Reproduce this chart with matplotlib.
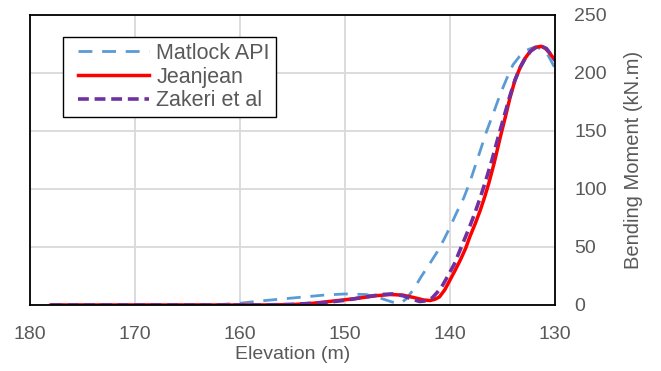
import matplotlib.pyplot as plt
from matplotlib.legend_handler import HandlerLine2D

plt.rcParams['font.family'] = ['Liberation Sans', 'DejaVu Sans']

# Elevation (m) / Bending moment (kN.m)
matlock_x = [178, 170, 165, 162, 160, 158, 155, 152, 150, 148, 146.5, 145.5, 144.7,
             144.2, 143.5, 142.7, 141.9, 141.2, 140.6, 140, 139.4, 138.7, 138.1,
             137.3, 136.5, 135.8, 135.2, 134.6, 134, 133.4, 132.7, 132.2, 131.7,
             131.2, 130.8, 130.4, 130]
matlock_y = [0, 0, 0, 0.3, 1.5, 3.5, 6, 8.5, 9.5, 9, 5.5, 2.5, 1.5,
             5, 13, 25, 36, 46, 56, 67, 79, 92, 106,
             128, 150, 167, 182, 195, 207, 214, 219.5, 221.5, 222,
             220.5, 217.5, 211, 204]

jeanjean_x = [178, 165, 158, 155, 153, 151, 149, 147, 145.7, 144.5, 143.5, 142.5,
              141.9, 141.4, 141, 140.5, 140, 139.5, 139, 138.5, 138.1, 137.6,
              137.1, 136.7, 136.3, 135.8, 135.2, 134.7, 134.3, 133.8, 133.3, 132.9,
              132.4, 131.9, 131.3, 130.9, 130.5, 130]
jeanjean_y = [0, 0, 0, 0.3, 1.5, 3.5, 5.5, 8, 9, 8.5, 6.5, 4.3,
              3.8, 5, 7, 13, 21.5, 30, 39, 49, 59, 70,
              82, 93, 105, 122, 145, 163, 178, 194, 205, 212,
              218, 222, 223, 221, 217, 211]

zakeri_x = [178, 158, 155, 152, 150, 148, 146.5, 145.5, 144.5, 143.6, 142.9, 142.3,
            141.7, 141.2, 140.7, 140.2, 139.6, 139.1, 138.6, 138.1, 137.6, 137.1,
            136.6, 136, 135.4, 134.8, 134.3, 133.8, 133.3, 132.8, 132.3, 131.8,
            131.3, 130.8, 130.4, 130]
zakeri_y = [0, 0, 0.5, 2, 4, 7, 9, 9.5, 8, 5, 3, 3.5,
            6, 11, 17, 25, 35, 46, 57, 68, 80, 93,
            107, 125, 145, 164, 180, 194, 205, 213, 219, 222,
            223, 221, 216, 211]

x_ticks = [180, 170, 160, 150, 140, 130]
y_ticks = [0, 50, 100, 150, 200, 250]

grey = '#595959'

fig = plt.figure(figsize=(6.61, 3.71), dpi=100)
ax = fig.add_axes([0.0454, 0.178, 0.7942, 0.7818])

ax.plot(matlock_x, matlock_y, color='#5b9bd5', lw=2.0, dashes=(5, 3.5), label='Matlock API')
ax.plot(jeanjean_x, jeanjean_y, color='#ff0000', lw=2.5, label='Jeanjean')
ax.plot(zakeri_x, zakeri_y, color='#7030a0', lw=2.6, dashes=(3, 1.6), label='Zakeri et al')

ax.set_xlim(180, 130)
ax.set_ylim(0, 250)
ax.set_xticks(x_ticks)
ax.set_yticks(y_ticks)
ax.yaxis.tick_right()
ax.yaxis.set_label_position('right')
ax.tick_params(length=0, labelsize=14, labelcolor=grey)
ax.tick_params(axis='y', pad=14)
ax.tick_params(axis='x', pad=15)
ax.grid(color='#d9d9d9', lw=1.3)
ax.set_axisbelow(True)
for s in ax.spines.values():
    s.set_color('black')
    s.set_linewidth(1.3)

ax.set_xlabel('Elevation (m)', fontsize=14, color=grey, labelpad=2)
ax.set_ylabel('Bending Moment (kN.m)', fontsize=14.5, color=grey, labelpad=12)

# handles start a bit inside the box, like in Excel
leg = ax.legend(loc='upper left', bbox_to_anchor=(0.063, 0.924), fontsize=15.5,
                fancybox=False, framealpha=1, edgecolor='black', handlelength=3.7,
                labelspacing=0.12, borderpad=0.28, handletextpad=0.35, borderaxespad=0,
                handler_map={l: HandlerLine2D(xpad=0.42) for l in ax.get_lines()})
leg.get_frame().set_linewidth(1.0)
for t in leg.get_texts():
    t.set_color(grey)

fig.savefig('out.png', dpi=100)
